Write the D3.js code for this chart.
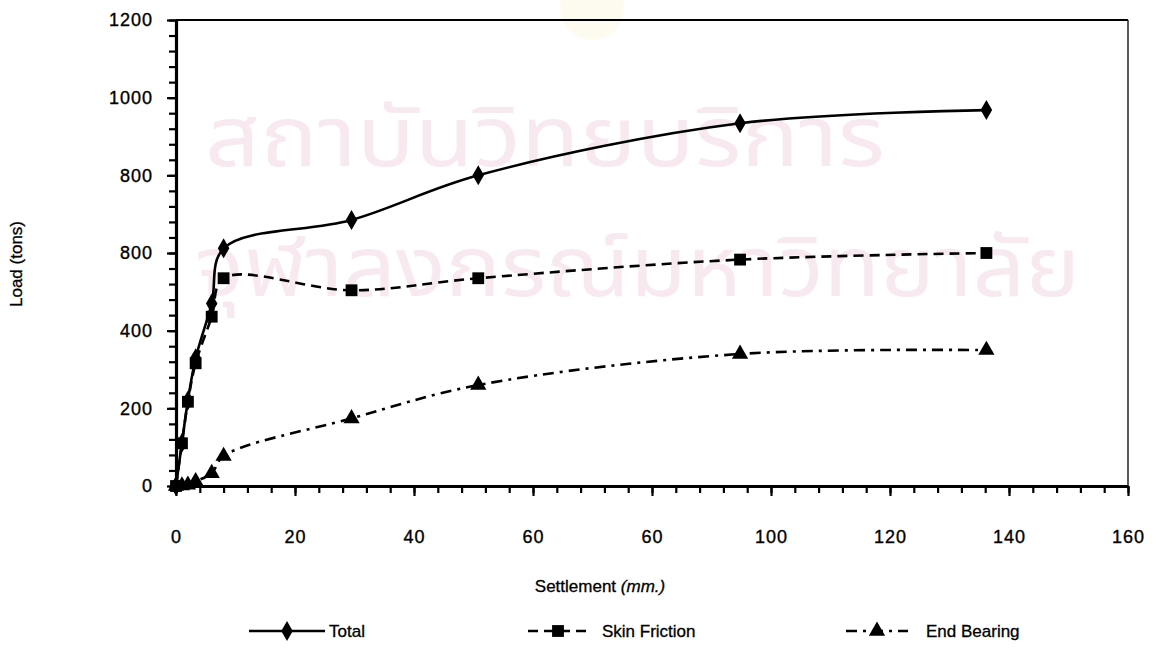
<!DOCTYPE html>
<html><head><meta charset="utf-8">
<script src="https://cdn.jsdelivr.net/npm/d3@7"></script>
<style>body{margin:0;background:#fff;} svg{display:block}</style>
</head><body>
<svg id="c" width="1161" height="651"></svg>
<script>
// ---- data ----
const settlement   = [0, 1, 2, 3.3, 6, 8, 29.5, 50.8, 94.8, 136.2];
const total        = [0, 111, 220, 329, 470, 612, 685, 800, 934, 968];
const skinFriction = [0, 110, 217, 316, 436, 535, 504, 535, 583, 600];
const endBearing   = [0, 1, 3, 12, 33, 77, 174, 260, 340, 350];
const seriesNames  = ["Total", "Skin Friction", "End Bearing"];
const yTickValues  = [0, 200, 400, 600, 800, 1000, 1200];
const yTickLabels  = ["0", "200", "400", "800", "800", "1000", "1200"];
const xTickValues  = [0, 20, 40, 60, 80, 100, 120, 140, 160];
const xTickLabels  = ["0", "20", "40", "60", "60", "100", "120", "140", "160"];
const xTitle = "Settlement ";
const xTitleUnit = "(mm.)";
const yTitle = "Load (tons)";
const watermark = ["สถาบันวิทยบริการ", "จุฬาลงกรณ์มหาวิทยาลัย"];

const svg = d3.select("#c");
const FONT = "Arial, 'Liberation Sans', Helvetica, sans-serif";
const L = 176, R = 1128, T = 20, B = 486;
const x = d3.scaleLinear().domain([0, 160]).range([L, R]);
const y = d3.scaleLinear().domain([0, 1200]).range([B, T]);

// faint scan background mark
svg.append("ellipse").attr("cx", 592).attr("cy", 8).attr("rx", 32).attr("ry", 32).attr("fill", "#fdfaf0");

// watermark
const wm = svg.append("g").attr("fill", "#f8e9f1")
  .attr("font-family", "'Noto Sans Thai', 'Noto Sans', sans-serif").attr("font-size", 84);
wm.append("text").attr("x", 205).attr("y", 166)
  .attr("textLength", 680).attr("lengthAdjust", "spacingAndGlyphs").text(watermark[0]);
wm.append("text").attr("x", 195).attr("y", 296)
  .attr("textLength", 885).attr("lengthAdjust", "spacingAndGlyphs").text(watermark[1]);

// frame (top/right thin)
svg.append("line").attr("x1", L).attr("x2", R).attr("y1", T).attr("y2", T).attr("stroke", "#000").attr("stroke-width", 1.8);
svg.append("line").attr("x1", R).attr("x2", R).attr("y1", T).attr("y2", B).attr("stroke", "#000").attr("stroke-width", 1.3);

// minor ticks
const gxMinor = svg.append("g").attr("transform", `translate(0,${B})`)
  .call(d3.axisBottom(x).tickValues(d3.range(0, 161, 4)).tickSize(7).tickSizeOuter(0).tickFormat(""));
const gyMinor = svg.append("g").attr("transform", `translate(${L},0)`)
  .call(d3.axisLeft(y).tickValues(d3.range(0, 1201, 40)).tickSize(7).tickSizeOuter(0).tickFormat(""));
[gxMinor, gyMinor].forEach(g => { g.select(".domain").remove(); g.selectAll("line").attr("stroke-width", 2.2); });

// major axes
const gx = svg.append("g").attr("transform", `translate(0,${B})`)
  .call(d3.axisBottom(x).tickValues(xTickValues).tickSize(10).tickSizeOuter(0)
    .tickFormat((d, i) => xTickLabels[i]).tickPadding(34));
const gy = svg.append("g").attr("transform", `translate(${L},0)`)
  .call(d3.axisLeft(y).tickValues(yTickValues).tickSize(9).tickSizeOuter(0)
    .tickFormat((d, i) => yTickLabels[i]).tickPadding(14));
[gx, gy].forEach(g => {
  g.select(".domain").attr("stroke-width", 3.2);
  g.selectAll("line").attr("stroke-width", 2.2);
  g.selectAll("text").attr("font-family", FONT).attr("font-size", 18).attr("fill", "#000")
    .attr("letter-spacing", "1px").attr("stroke", "#000").attr("stroke-width", 0.35);
});

// titles
const xt = svg.append("text").attr("x", 600).attr("y", 592).attr("text-anchor", "middle")
  .attr("font-family", FONT).attr("font-size", 17).attr("stroke", "#000").attr("stroke-width", 0.3);
xt.append("tspan").text(xTitle);
xt.append("tspan").attr("font-style", "italic").text(xTitleUnit);
svg.append("text").attr("transform", "translate(22,264) rotate(-90)").attr("text-anchor", "middle")
  .attr("font-family", FONT).attr("font-size", 17).attr("stroke", "#000").attr("stroke-width", 0.3).text(yTitle);

// series
const series = [
  { name: seriesNames[0], vals: total, dash: null, sym: d3.symbolDiamond, size: 115 },
  { name: seriesNames[1], vals: skinFriction, dash: "10,6", sym: d3.symbolSquare, size: 140 },
  { name: seriesNames[2], vals: endBearing, dash: "11,6,3,6", sym: d3.symbolTriangle, size: 115 }
];
const line = d3.line().x(d => x(d[0])).y(d => y(d[1])).curve(d3.curveCatmullRom.alpha(0.5));
series.forEach(s => {
  const pts = settlement.map((v, i) => [v, s.vals[i]]);
  svg.append("path").attr("d", line(pts)).attr("fill", "none").attr("stroke", "#000")
    .attr("stroke-width", 2.6).attr("stroke-dasharray", s.dash);
  svg.append("g").selectAll("path").data(pts).join("path")
    .attr("transform", d => `translate(${x(d[0])},${y(d[1])})`)
    .attr("d", d3.symbol().type(s.sym).size(s.size)).attr("fill", "#000");
});

// legend
const legendX = [249, 528, 846];
const legendW = [76, 60, 62];
const legendTextX = [80, 74, 80];
const lg = svg.append("g");
series.forEach((s, i) => {
  const g = lg.append("g").attr("transform", `translate(${legendX[i]},631)`);
  g.append("line").attr("x1", 0).attr("x2", legendW[i]).attr("stroke", "#000").attr("stroke-width", 2.6)
    .attr("stroke-dasharray", s.dash);
  g.append("path").attr("transform", `translate(${legendW[i] / 2},0)`).attr("d", d3.symbol().type(s.sym).size(s.size)).attr("fill", "#000");
  g.append("text").attr("x", legendTextX[i]).attr("y", 6).attr("font-family", FONT).attr("font-size", 17)
    .attr("stroke", "#000").attr("stroke-width", 0.3).text(s.name);
});
</script>
</body></html>
